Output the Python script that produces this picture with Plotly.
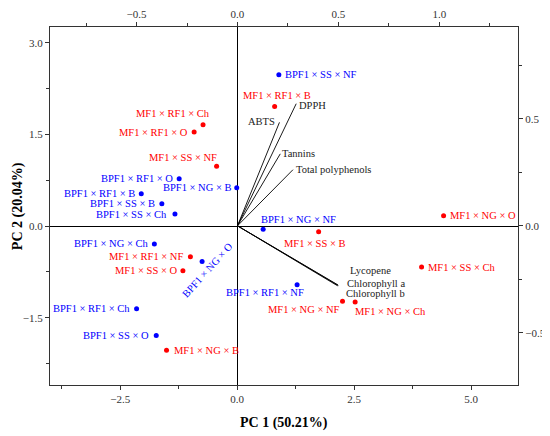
import plotly.graph_objects as go

# ---- data ----
blue_names = ["BPF1 × SS × NF", "BPF1 × RF1 × O", "BPF1 × NG × B", "BPF1 × RF1 × B",
              "BPF1 × SS × B", "BPF1 × SS × Ch", "BPF1 × NG × NF", "BPF1 × NG × Ch",
              "BPF1 × NG × O", "BPF1 × RF1 × Ch", "BPF1 × SS × O", "BPF1 × RF1 × NF"]
blue_x = [0.89, -1.24, -0.01, -2.05, -1.61, -1.33, 0.555, -1.77, -0.75, -2.15, -1.73, 1.28]
blue_y = [2.48, 0.775, 0.63, 0.53, 0.366, 0.20, -0.05, -0.29, -0.58, -1.35, -1.79, -0.96]

red_names = ["MF1 × RF1 × B", "MF1 × RF1 × Ch", "MF1 × RF1 × O", "MF1 × SS × NF",
             "MF1 × NG × O", "MF1 × SS × B", "MF1 × SS × Ch", "MF1 × RF1 × NF",
             "MF1 × SS × O", "MF1 × NG × B", "MF1 × NG × NF", "MF1 × NG × Ch"]
red_x = [0.80, -0.73, -0.92, -0.44, 4.41, 1.74, 3.94, -1.00, -1.16, -1.51, 2.25, 2.52]
red_y = [1.96, 1.66, 1.54, 0.98, 0.17, -0.09, -0.67, -0.50, -0.73, -2.03, -1.23, -1.24]

load_names = ["DPPH", "ABTS", "Tannins", "Total polyphenols",
              "Lycopene", "Chlorophyll a", "Chlorophyll b"]
load_x = [0.291, 0.208, 0.212, 0.275, 0.498, 0.500, 0.496]
load_y = [0.570, 0.483, 0.336, 0.262, -0.276, -0.279, -0.280]

# ---- label placement (xanchor, xshift px, yshift px, angle) ----
blue_lab = [("left", 4, 0, 0), ("right", -4, 0, 0), ("right", -4, 0, 0), ("right", -4, 0, 0),
            ("right", -5, 0, 0), ("right", -6, -1, 0), ("left", -4, 10, 0), ("right", -4, 0, 0),
            ("center", 5, -9, -48), ("right", -5, 0, 0), ("right", -5, 0, 0), ("right", 9, -8, 0)]
red_lab = [("center", 2, 11, 0), ("right", 9, 11, 0), ("right", -4, 0, 0), ("right", 2, 9, 0),
           ("left", 4, 0, 0), ("center", -4, -12, 0), ("left", 4, 0, 0), ("right", -5, 0, 0),
           ("right", -4, 0, 0), ("left", 5, 0, 0), ("right", -1, -8, 0), ("left", -2, -10, 0)]
load_lab = [("left", 1, -2), ("right", -2, 1), ("left", 0, 0), ("left", 1, 0),
            ("left", 10, 14), ("left", 7, 2), ("left", 6, -8)]

FONT = "Liberation Serif, Times New Roman, serif"
BLUE = "#0000ff"
RED = "#ff0000"

fig = go.Figure()

# loading vectors
for lx, ly in zip(load_x, load_y):
    fig.add_trace(go.Scatter(x=[0, lx], y=[0, ly], mode="lines", xaxis="x2", yaxis="y2",
                             line=dict(color="black", width=0.9), showlegend=False,
                             hoverinfo="skip"))

fig.add_trace(go.Scatter(x=blue_x, y=blue_y, mode="markers", marker=dict(color=BLUE, size=5),
                         showlegend=False))
fig.add_trace(go.Scatter(x=red_x, y=red_y, mode="markers", marker=dict(color=RED, size=5),
                         showlegend=False))

ann = []
for names, xs, ys, labs, col in [(blue_names, blue_x, blue_y, blue_lab, BLUE),
                                 (red_names, red_x, red_y, red_lab, RED)]:
    for n, x, y, (xa, dx, dy, ang) in zip(names, xs, ys, labs):
        ann.append(dict(x=x, y=y, xref="x", yref="y", text=n, showarrow=False,
                        xanchor=xa, yanchor="middle", xshift=dx, yshift=dy,
                        textangle=ang, font=dict(family=FONT, size=10.5, color=col)))
for n, x, y, (xa, dx, dy) in zip(load_names, load_x, load_y, load_lab):
    ann.append(dict(x=x, y=y, xref="x2", yref="y2", text=n, showarrow=False,
                    xanchor=xa, yanchor="middle", xshift=dx, yshift=dy,
                    font=dict(family=FONT, size=10.5, color="#222")))

# axis titles
ann.append(dict(x=0.5, y=-0.106, xref="paper", yref="paper", text="<b>PC 1 (50.21%)</b>",
                showarrow=False, xanchor="center", yanchor="middle",
                font=dict(family=FONT, size=14, color="black")))
ann.append(dict(x=-0.068, y=0.5, xref="paper", yref="paper", text="<b>PC 2 (20.04%)</b>",
                showarrow=False, xanchor="center", yanchor="middle", textangle=-90,
                font=dict(family=FONT, size=14, color="black")))

axcommon = dict(showgrid=False, showline=True, linecolor="#333", linewidth=1.2,
                ticks="outside", ticklen=4, tickcolor="#333", tickformat=".1f",
                automargin=False,
                tickfont=dict(family=FONT, size=11, color="#333"))

fig.update_layout(
    width=542, height=428,
    margin=dict(l=42, r=32, t=19, b=51),
    paper_bgcolor="white", plot_bgcolor="white",
    annotations=ann,
    xaxis=dict(range=[-4, 6], dtick=2.5, tick0=0,
               minor=dict(dtick=1.25, ticks="outside", ticklen=3, tickcolor="#333"),
               zeroline=True, zerolinecolor="black", zerolinewidth=1,
               **axcommon),
    yaxis=dict(range=[-2.6, 3.26], dtick=1.5, tick0=0,
               minor=dict(dtick=0.75, ticks="outside", ticklen=3, tickcolor="#333"),
               zeroline=True, zerolinecolor="black", zerolinewidth=1,
               **axcommon),
    xaxis2=dict(range=[-0.929, 1.390], dtick=0.5, tick0=0, overlaying="x", side="top",
                minor=dict(dtick=0.25, ticks="outside", ticklen=3, tickcolor="#333"),
                zeroline=False, **axcommon),
    yaxis2=dict(range=[-0.743, 0.928], dtick=0.5, tick0=0, overlaying="y", side="right",
                minor=dict(dtick=0.25, ticks="outside", ticklen=3, tickcolor="#333"),
                zeroline=False, **axcommon),
)

fig.write_html("out.html")
